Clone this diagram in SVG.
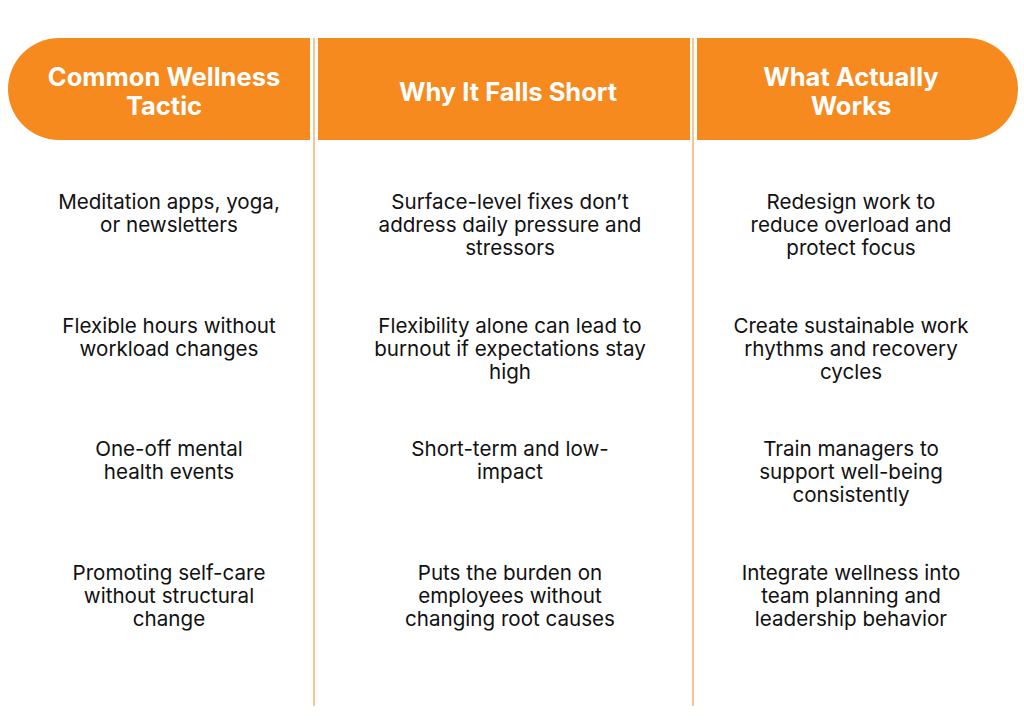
<svg xmlns="http://www.w3.org/2000/svg" width="1024" height="724" viewBox="0 0 1024 724">
<style>
.h{fill:#F68A1F}
.ht{font-family:"Inter","Liberation Sans",sans-serif;font-weight:700;font-size:25.5px;fill:#fff;text-anchor:middle}
.t{font-family:"Inter","Liberation Sans",sans-serif;font-size:20.6px;fill:#111;text-anchor:middle}
.l{stroke:#F6B273;stroke-width:1.5}
</style>
<rect width="1024" height="724" fill="#fff"/>
<g id="connectors">
<line class="l" x1="314" y1="38" x2="314" y2="706"/>
<line class="l" x1="693" y1="38" x2="693" y2="706"/>
</g>
<g id="h1"><path class="h" d="M59 38H310V140H59A51 51 0 0 1 59 38Z"/>
<text class="ht" x="164" y="86">Common Wellness</text><text class="ht" x="164" y="115">Tactic</text></g>
<g id="h2"><rect class="h" x="318" y="38" width="372" height="102"/>
<text class="ht" x="508" y="101">Why It Falls Short</text></g>
<g id="h3"><path class="h" d="M697 38H967A51 51 0 0 1 967 140H697Z"/>
<text class="ht" x="851" y="86">What Actually</text><text class="ht" x="851" y="115">Works</text></g>
<g id="c1" class="t">
<text x="169" y="209">Meditation apps, yoga,</text><text x="169" y="232">or newsletters</text>
<text x="169" y="333">Flexible hours without</text><text x="169" y="356">workload changes</text>
<text x="169" y="456">One-off mental</text><text x="169" y="479">health events</text>
<text x="169" y="580">Promoting self-care</text><text x="169" y="603">without structural</text><text x="169" y="626">change</text>
</g>
<g id="c2" class="t">
<text x="510" y="209">Surface-level fixes don’t</text><text x="510" y="232">address daily pressure and</text><text x="510" y="255">stressors</text>
<text x="510" y="333">Flexibility alone can lead to</text><text x="510" y="356">burnout if expectations stay</text><text x="510" y="379">high</text>
<text x="510" y="456">Short-term and low-</text><text x="510" y="479">impact</text>
<text x="510" y="580">Puts the burden on</text><text x="510" y="603">employees without</text><text x="510" y="626">changing root causes</text>
</g>
<g id="c3" class="t">
<text x="851" y="209">Redesign work to</text><text x="851" y="232">reduce overload and</text><text x="851" y="255">protect focus</text>
<text x="851" y="333">Create sustainable work</text><text x="851" y="356">rhythms and recovery</text><text x="851" y="379">cycles</text>
<text x="851" y="456">Train managers to</text><text x="851" y="479">support well-being</text><text x="851" y="502">consistently</text>
<text x="851" y="580">Integrate wellness into</text><text x="851" y="603">team planning and</text><text x="851" y="626">leadership behavior</text>
</g>
</svg>
